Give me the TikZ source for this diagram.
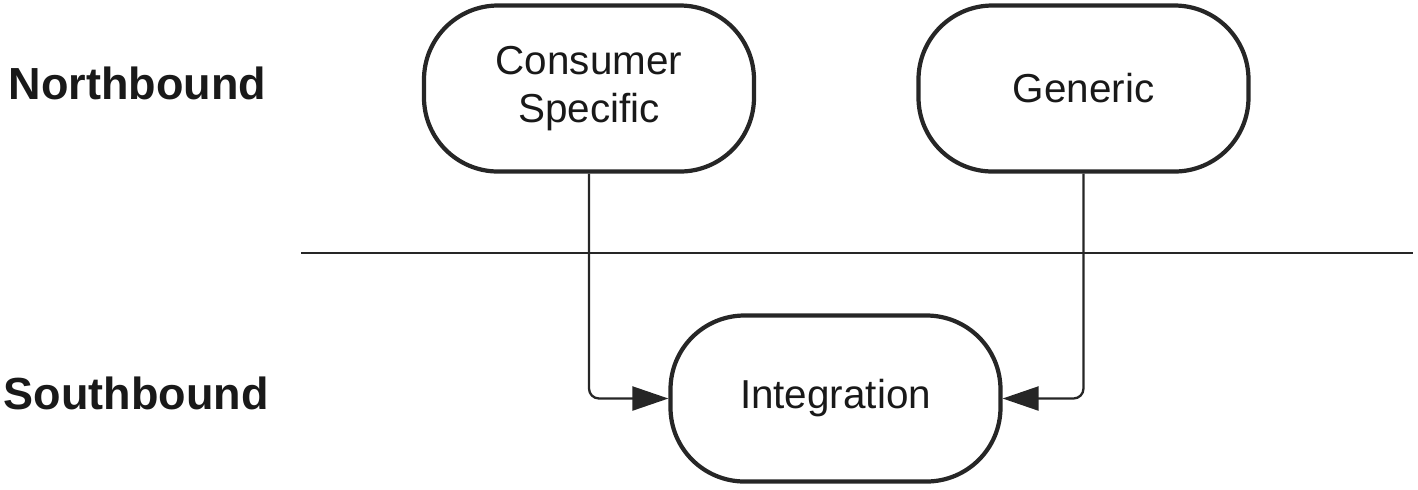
\documentclass[tikz,border=0pt]{standalone}
\usepackage{fontspec}
\setmainfont{Liberation Sans}
\usetikzlibrary{arrows.meta}
\begin{document}
\begin{tikzpicture}[x=0.1mm,y=-0.1mm,
  box/.style={draw=black!85, line width=1.2pt, rounded corners=7.4mm,
    minimum width=33mm, minimum height=16.6mm, align=center,
    font=\fontsize{11.5}{13.6}\selectfont, text=black!90},
  conn/.style={draw=black!85, line width=0.65pt, rounded corners=1mm,
    -{Triangle[length=3.6mm,width=2.4mm]}},
  lab/.style={font=\fontsize{12.8}{15}\selectfont\bfseries, inner sep=0pt, text=black!90}]
\useasboundingbox (0,0) rectangle (1418,489);
\node[box] (cs) at (589,88.5) {Consumer\\Specific};
\node[box] (gen) at (1083.5,88.5) {Generic};
\node[box] (int) at (835.5,398.5) {Integration};
\node[lab, anchor=base west] (nb) at (8,99) {Northbound};
\node[lab, anchor=base west] (sb) at (3,409) {Southbound};
\coordinate (hl) at (301,253);
\coordinate (hr) at (1413,253);
\draw[draw=black!85, line width=0.65pt] (hl) -- (hr);
\draw[conn] (cs.south) |- (int.west);
\draw[conn] (gen.south) |- (int.east);
\end{tikzpicture}
\end{document}
